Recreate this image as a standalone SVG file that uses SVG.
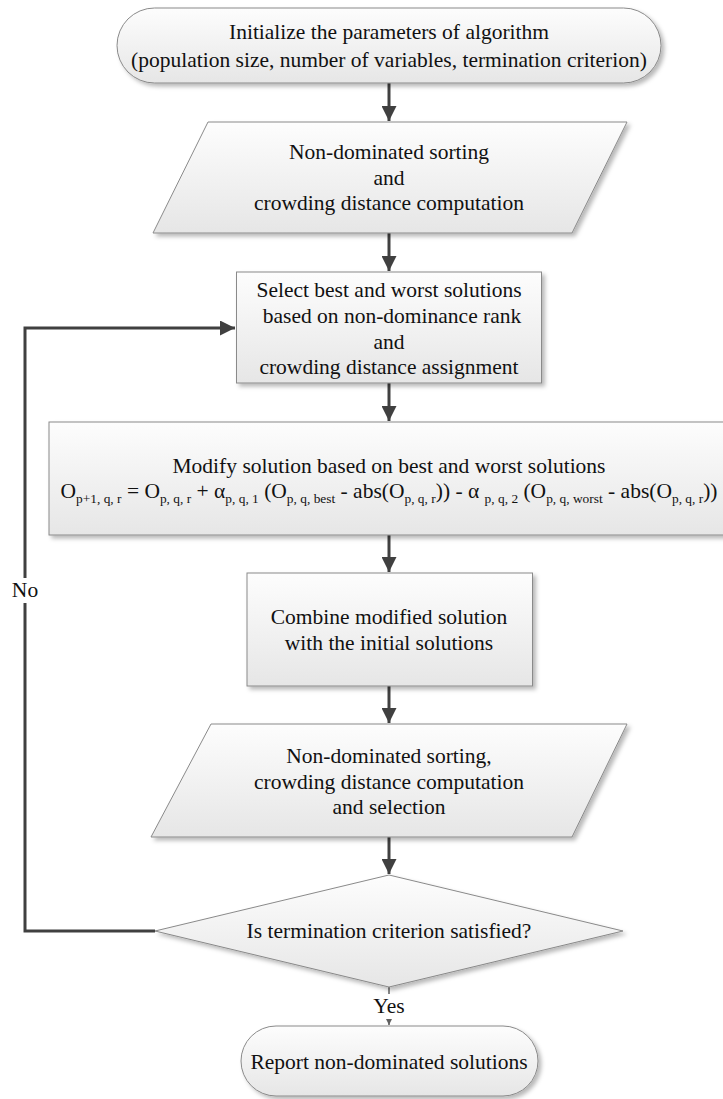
<svg xmlns="http://www.w3.org/2000/svg" width="723" height="1099" viewBox="0 0 723 1099">
<defs>
<linearGradient id="g" x1="0" y1="0" x2="0" y2="1">
<stop offset="0" stop-color="#fdfdfd"/>
<stop offset="1" stop-color="#e6e6e6"/>
</linearGradient>
<filter id="sh" x="-10%" y="-10%" width="120%" height="130%">
<feDropShadow dx="3" dy="3" stdDeviation="2" flood-color="#000" flood-opacity="0.28"/>
</filter>
<marker id="ah" markerWidth="5" markerHeight="5" refX="5" refY="2.5" orient="auto" markerUnits="strokeWidth">
<path d="M0,0 L5,2.5 L0,5 Z" fill="#404040"/>
</marker>
<marker id="ahs" markerWidth="6" markerHeight="6" refX="6" refY="3" orient="auto" markerUnits="strokeWidth">
<path d="M0,0 L6,3 L0,6 Z" fill="#606060"/>
</marker>
</defs>
<style>
.n{fill:url(#g);stroke:#8a8a8a;stroke-width:1;filter:url(#sh)}
.t{font-family:"Liberation Serif","Times New Roman",serif;font-size:21.5px;fill:#111;text-anchor:middle}
.s{font-size:13.4px}
.c{fill:none;stroke:#404040;stroke-width:3}
</style>
<rect width="723" height="1099" fill="#fff"/>
<g id="connectors">
<line class="c" x1="389" y1="83" x2="389" y2="121" marker-end="url(#ah)"/>
<line class="c" x1="389" y1="233" x2="389" y2="271" marker-end="url(#ah)"/>
<line class="c" x1="389" y1="383" x2="389" y2="421" marker-end="url(#ah)"/>
<line class="c" x1="389" y1="535" x2="389" y2="572" marker-end="url(#ah)"/>
<line class="c" x1="389" y1="686" x2="389" y2="723" marker-end="url(#ah)"/>
<line class="c" x1="389" y1="837" x2="389" y2="874" marker-end="url(#ah)"/>
<polyline class="c" points="155,931 25,931 25,328 235,328" marker-end="url(#ah)"/>
<line x1="389" y1="987" x2="389" y2="1025" stroke="#606060" stroke-width="1.5" marker-end="url(#ahs)"/>
<rect x="8" y="578" width="34" height="25" fill="#fff"/>
<text class="t" x="25" y="597">No</text>
<rect x="370" y="994" width="38" height="25" fill="#fff"/>
<text class="t" x="389" y="1013">Yes</text>
</g>
<g id="start">
<rect class="n" x="117" y="8" width="544" height="75" rx="37.5"/>
<text class="t" x="389" y="39">Initialize the parameters of algorithm</text>
<text class="t" x="389" y="67">(population size, number of variables, termination criterion)</text>
</g>
<g id="sort1">
<polygon class="n" points="208,122 627,122 572,233 153,233"/>
<text class="t" x="389" y="159">Non-dominated sorting</text>
<text class="t" x="389" y="185">and</text>
<text class="t" x="389" y="210">crowding distance computation</text>
</g>
<g id="select">
<rect class="n" x="236.5" y="272" width="305" height="111"/>
<text class="t" x="389" y="297">Select best and worst solutions</text>
<text class="t" x="392" y="323">based on non-dominance rank</text>
<text class="t" x="389" y="349">and</text>
<text class="t" x="389" y="374">crowding distance assignment</text>
</g>
<g id="modify">
<rect class="n" x="49" y="422" width="690" height="113"/>
<text class="t" x="389" y="473">Modify solution based on best and worst solutions</text>
<text class="t" x="389" y="498">O<tspan class="s" dy="5">p+1, q, r</tspan><tspan dy="-5"> = O</tspan><tspan class="s" dy="5">p, q, r</tspan><tspan dy="-5"> + α</tspan><tspan class="s" dy="5">p, q, 1</tspan><tspan dy="-5"> (O</tspan><tspan class="s" dy="5">p, q, best</tspan><tspan dy="-5"> - abs(O</tspan><tspan class="s" dy="5">p, q, r</tspan><tspan dy="-5">)) - α </tspan><tspan class="s" dy="5">p, q, 2</tspan><tspan dy="-5"> (O</tspan><tspan class="s" dy="5">p, q, worst</tspan><tspan dy="-5"> - abs(O</tspan><tspan class="s" dy="5">p, q, r</tspan><tspan dy="-5">))</tspan></text>
</g>
<g id="combine">
<rect class="n" x="247" y="573" width="285.5" height="113"/>
<text class="t" x="389" y="624">Combine modified solution</text>
<text class="t" x="389" y="650">with the initial solutions</text>
</g>
<g id="sort2">
<polygon class="n" points="211,724 627,724 572,837 151,837"/>
<text class="t" x="389" y="763">Non-dominated sorting,</text>
<text class="t" x="389" y="789">crowding distance computation</text>
<text class="t" x="389" y="814">and selection</text>
</g>
<g id="decision">
<polygon class="n" points="389,875 623,931 389,987 155,931"/>
<text class="t" x="389" y="938">Is termination criterion satisfied?</text>
</g>
<g id="end">
<rect class="n" x="241" y="1026" width="297" height="70" rx="35"/>
<text class="t" x="389" y="1069">Report non-dominated solutions</text>
</g>
</svg>
